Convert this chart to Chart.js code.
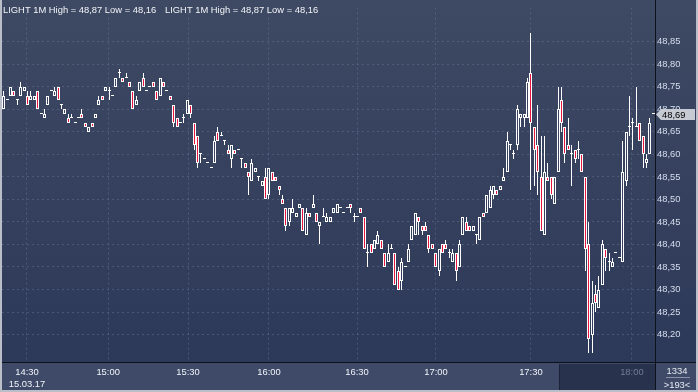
<!DOCTYPE html>
<html>
<head>
<meta charset="utf-8">
<script src="https://cdn.jsdelivr.net/npm/chart.js@4.4.1/dist/chart.umd.min.js"></script>
<style>
  html, body { margin: 0; padding: 0; background: #2f3b58; }
  #wrap { width: 698px; height: 392px; }
</style>
</head>
<body>
<div id="wrap"><canvas id="lightChart" width="698" height="392"></canvas></div>
<script>
/* LIGHT 1M - 15.03.17, bougies 1 minute */

const opens = [
  48.70, 48.72, 48.73, 48.74, 48.72, 48.73, 48.74, 48.73, 48.72, 48.72,
  48.74, 48.69, 48.68, 48.71, 48.74, 48.73, 48.75, 48.71, 48.69, 48.68,
  48.68, 48.67, 48.68, 48.69, 48.67, 48.65, 48.67, 48.68, 48.71, 48.73,
  48.74, 48.74, 48.73, 48.75, 48.78, 48.77, 48.77, 48.76, 48.74, 48.71,
  48.74, 48.77, 48.74, 48.75, 48.76, 48.74, 48.73, 48.76, 48.74, 48.73,
  48.71, 48.68, 48.67, 48.68, 48.69, 48.71, 48.67, 48.64, 48.60, 48.59,
  48.58, 48.57, 48.58, 48.65, 48.64, 48.63, 48.61, 48.59, 48.61, 48.61,
  48.59, 48.58, 48.56, 48.54, 48.56, 48.55, 48.53, 48.55, 48.51, 48.56,
  48.55, 48.53, 48.50, 48.48, 48.45, 48.47, 48.46, 48.48, 48.48, 48.42,
  48.47, 48.48, 48.47, 48.44, 48.46, 48.45, 48.45, 48.47, 48.47, 48.48,
  48.47, 48.48, 48.49, 48.46, 48.46, 48.48, 48.46, 48.38, 48.40, 48.39,
  48.40, 48.41, 48.38, 48.36, 48.39, 48.38, 48.34, 48.32, 48.35, 48.36,
  48.41, 48.42, 48.46, 48.44, 48.44, 48.42, 48.40, 48.38, 48.34, 48.40,
  48.40, 48.38, 48.36, 48.38, 48.35, 48.42, 48.45, 48.44, 48.43, 48.42,
  48.41, 48.47, 48.47, 48.48, 48.51, 48.52, 48.52, 48.54, 48.56, 48.62,
  48.60, 48.62, 48.68, 48.68, 48.68, 48.78, 48.66, 48.62, 48.55, 48.42,
  48.55, 48.55, 48.49, 48.56, 48.72, 48.66, 48.62, 48.60, 48.61, 48.61,
  48.60, 48.55, 48.40, 48.20, 48.29, 48.26, 48.31, 48.39, 48.36, 48.35,
  48.38, 48.37, 48.36, 48.54, 48.66, 48.67, 48.66, 48.67, 48.64, 48.58,
  48.60, 48.69
];
const highs = [
  48.74, 48.72, 48.75, 48.74, 48.72, 48.76, 48.75, 48.74, 48.74, 48.73,
  48.74, 48.69, 48.70, 48.73, 48.74, 48.75, 48.75, 48.71, 48.70, 48.69,
  48.69, 48.67, 48.68, 48.70, 48.67, 48.66, 48.67, 48.69, 48.73, 48.73,
  48.75, 48.75, 48.73, 48.77, 48.79, 48.77, 48.78, 48.76, 48.74, 48.73,
  48.76, 48.78, 48.74, 48.75, 48.76, 48.74, 48.77, 48.76, 48.74, 48.73,
  48.71, 48.68, 48.67, 48.69, 48.72, 48.71, 48.67, 48.64, 48.60, 48.59,
  48.58, 48.57, 48.64, 48.66, 48.65, 48.63, 48.62, 48.62, 48.61, 48.61,
  48.59, 48.58, 48.56, 48.59, 48.57, 48.55, 48.54, 48.57, 48.57, 48.56,
  48.55, 48.53, 48.51, 48.48, 48.48, 48.50, 48.47, 48.49, 48.48, 48.48,
  48.47, 48.51, 48.47, 48.45, 48.48, 48.47, 48.46, 48.48, 48.49, 48.48,
  48.47, 48.48, 48.49, 48.47, 48.46, 48.48, 48.46, 48.40, 48.40, 48.41,
  48.43, 48.41, 48.38, 48.40, 48.40, 48.38, 48.35, 48.37, 48.35, 48.40,
  48.44, 48.47, 48.46, 48.44, 48.45, 48.42, 48.40, 48.38, 48.39, 48.40,
  48.41, 48.39, 48.39, 48.38, 48.41, 48.46, 48.46, 48.44, 48.44, 48.42,
  48.46, 48.47, 48.51, 48.53, 48.53, 48.52, 48.53, 48.57, 48.65, 48.62,
  48.61, 48.71, 48.69, 48.69, 48.77, 48.87, 48.66, 48.71, 48.64, 48.64,
  48.58, 48.55, 48.55, 48.75, 48.75, 48.66, 48.68, 48.62, 48.61, 48.63,
  48.60, 48.55, 48.45, 48.32, 48.31, 48.33, 48.41, 48.39, 48.38, 48.37,
  48.38, 48.37, 48.63, 48.65, 48.73, 48.68, 48.75, 48.67, 48.64, 48.60,
  48.68, 48.69
];
const lows = [
  48.70, 48.72, 48.73, 48.73, 48.71, 48.73, 48.74, 48.71, 48.72, 48.72,
  48.70, 48.69, 48.68, 48.71, 48.74, 48.73, 48.72, 48.70, 48.69, 48.67,
  48.68, 48.67, 48.68, 48.68, 48.66, 48.65, 48.66, 48.68, 48.71, 48.72,
  48.74, 48.72, 48.73, 48.75, 48.77, 48.76, 48.77, 48.75, 48.70, 48.71,
  48.74, 48.75, 48.74, 48.75, 48.75, 48.72, 48.73, 48.75, 48.74, 48.72,
  48.66, 48.66, 48.67, 48.67, 48.69, 48.68, 48.61, 48.57, 48.58, 48.59,
  48.58, 48.57, 48.58, 48.63, 48.64, 48.62, 48.60, 48.57, 48.60, 48.61,
  48.57, 48.57, 48.51, 48.54, 48.56, 48.54, 48.53, 48.50, 48.50, 48.54,
  48.54, 48.51, 48.49, 48.43, 48.44, 48.47, 48.46, 48.48, 48.43, 48.42,
  48.46, 48.48, 48.45, 48.40, 48.46, 48.45, 48.45, 48.47, 48.47, 48.48,
  48.47, 48.48, 48.47, 48.45, 48.46, 48.47, 48.39, 48.35, 48.38, 48.39,
  48.40, 48.39, 48.35, 48.36, 48.39, 48.31, 48.30, 48.30, 48.35, 48.36,
  48.41, 48.42, 48.42, 48.42, 48.43, 48.38, 48.39, 48.35, 48.33, 48.38,
  48.39, 48.37, 48.36, 48.32, 48.35, 48.42, 48.43, 48.43, 48.43, 48.40,
  48.41, 48.46, 48.47, 48.48, 48.50, 48.51, 48.52, 48.54, 48.56, 48.61,
  48.59, 48.61, 48.66, 48.66, 48.68, 48.52, 48.53, 48.51, 48.43, 48.42,
  48.54, 48.50, 48.49, 48.56, 48.65, 48.58, 48.61, 48.53, 48.58, 48.59,
  48.56, 48.34, 48.16, 48.16, 48.25, 48.26, 48.31, 48.34, 48.34, 48.35,
  48.38, 48.37, 48.36, 48.53, 48.64, 48.61, 48.66, 48.63, 48.57, 48.57,
  48.60, 48.69
];
const closes = [
  48.73, 48.72, 48.75, 48.73, 48.72, 48.75, 48.75, 48.71, 48.73, 48.73,
  48.70, 48.69, 48.69, 48.73, 48.74, 48.74, 48.72, 48.71, 48.70, 48.67,
  48.68, 48.67, 48.68, 48.68, 48.66, 48.66, 48.66, 48.69, 48.72, 48.72,
  48.75, 48.74, 48.73, 48.77, 48.78, 48.76, 48.77, 48.75, 48.70, 48.72,
  48.76, 48.75, 48.74, 48.75, 48.75, 48.72, 48.77, 48.75, 48.74, 48.72,
  48.67, 48.66, 48.67, 48.68, 48.72, 48.69, 48.62, 48.58, 48.60, 48.59,
  48.58, 48.57, 48.63, 48.63, 48.64, 48.63, 48.60, 48.62, 48.60, 48.61,
  48.59, 48.57, 48.55, 48.58, 48.57, 48.55, 48.54, 48.50, 48.57, 48.54,
  48.54, 48.52, 48.49, 48.44, 48.48, 48.48, 48.47, 48.49, 48.43, 48.47,
  48.46, 48.49, 48.45, 48.45, 48.46, 48.46, 48.46, 48.48, 48.49, 48.48,
  48.47, 48.48, 48.48, 48.46, 48.46, 48.47, 48.39, 48.38, 48.38, 48.41,
  48.42, 48.39, 48.35, 48.38, 48.39, 48.31, 48.30, 48.36, 48.35, 48.39,
  48.44, 48.47, 48.45, 48.43, 48.43, 48.39, 48.39, 48.35, 48.39, 48.38,
  48.39, 48.38, 48.38, 48.34, 48.40, 48.46, 48.43, 48.43, 48.44, 48.42,
  48.46, 48.46, 48.51, 48.52, 48.53, 48.51, 48.53, 48.55, 48.63, 48.62,
  48.60, 48.70, 48.69, 48.69, 48.76, 48.67, 48.61, 48.56, 48.43, 48.56,
  48.54, 48.51, 48.55, 48.70, 48.67, 48.60, 48.61, 48.60, 48.59, 48.61,
  48.56, 48.39, 48.19, 48.27, 48.27, 48.30, 48.40, 48.37, 48.36, 48.36,
  48.38, 48.37, 48.56, 48.65, 48.66, 48.67, 48.66, 48.63, 48.60, 48.59,
  48.67, 48.69
];

// axe des prix (droite) et axe du temps
const yTicks = [48.20, 48.25, 48.30, 48.35, 48.40, 48.45, 48.50, 48.55,
                48.60, 48.65, 48.70, 48.75, 48.80, 48.85];
const timeLabels = [['14:30', '15.03.17'], '15:00', '15:30', '16:00',
                    '16:30', '17:00', '17:30', '18:00'];
const timeTickPos = [6.85, 30.7, 54.2, 78.0, 103.9, 127.1, 155.0, 184.7];

const symbolTitle = 'LIGHT 1M';
const footTop = '1334';
const footBottom = '>193<';

const RED = '#e8163f';
const GRID = 'rgba(112,126,158,0.42)';

// police : Narrow si dispo, sinon Liberation Sans plus petit
function pickFont() {
  const c = document.createElement('canvas').getContext('2d');
  c.font = '11px monospace';
  const mono = c.measureText('LIGHT 1M High').width;
  c.font = '11px "Liberation Sans Narrow", monospace';
  const narrow = c.measureText('LIGHT 1M High').width;
  if (Math.abs(mono - narrow) > 0.5) return { family: '"Liberation Sans Narrow"', size: 11 };
  return { family: '"Liberation Sans"', size: 9.4 };
}
const FONT = pickFont();
const fontStr = (size) => `${size}px ${FONT.family}`;

const fmt = (v) => v.toFixed(2).replace('.', ',');

const idx = opens.map((_, i) => i);
const lowerWicks = idx.map(i => ({ x: i, y: [lows[i], Math.min(opens[i], closes[i])] }));
const upperWicks = idx.map(i => ({ x: i, y: [Math.max(opens[i], closes[i]), highs[i]] }));
const bodies = idx.map(i => ({ x: i, y: [opens[i], closes[i]] }));

/* ---------- bougies calées sur les pixels (rendu net) ---------- */
const snapPlugin = {
  id: 'snapCandles',
  beforeDatasetsDraw(chart) {
    chart.data.datasets.forEach((ds, d) => {
      chart.getDatasetMeta(d).data.forEach(el => {
        el.x = Math.floor(el.x) + 0.5;
        const top = Math.round(Math.min(el.y, el.base));
        let bottom = Math.round(Math.max(el.y, el.base));
        if (d === 2 && bottom <= top) bottom = top + 1;
        el.y = top;
        el.base = bottom;
        el.height = bottom - top;
      });
    });
  }
};

/* ---------- fonds, bandeau du bas ---------- */
const backgroundPlugin = {
  id: 'lightBackground',
  beforeDraw(chart) {
    const { ctx, width, height } = chart;
    ctx.save();
    const g = ctx.createLinearGradient(0, 0, 0, 362);
    g.addColorStop(0, '#3e4963');
    g.addColorStop(1, '#2d3959');
    ctx.fillStyle = g;
    ctx.fillRect(0, 0, width, 362);

    // bandeau de l'axe du temps
    ctx.fillStyle = '#3e4a67';
    ctx.fillRect(0, 362, width, height - 362);

    // zone sombre (futur)
    ctx.fillStyle = '#28324d';
    ctx.fillRect(559, 364, 96, 26);
    ctx.strokeStyle = '#1c2336';
    ctx.beginPath();
    ctx.moveTo(559.5, 364);
    ctx.lineTo(559.5, 390);
    ctx.stroke();
    ctx.restore();
  },

  afterDraw(chart) {
    const { ctx, width, height, scales } = chart;
    ctx.save();

    // séparateurs noirs
    ctx.strokeStyle = '#0d111b';
    ctx.lineWidth = 1;
    ctx.beginPath();
    ctx.moveTo(655.5, 0);
    ctx.lineTo(655.5, height);
    ctx.moveTo(0, 362.5);
    ctx.lineTo(width, 362.5);
    ctx.stroke();

    // en-tête
    const hi = Math.max(...highs);
    const lo = Math.min(...lows);
    const head = `${symbolTitle} High = ${fmt(hi)} Low = ${fmt(lo)}`;
    ctx.font = fontStr(FONT.size);
    ctx.fillStyle = '#f2f4f8';
    ctx.textAlign = 'left';
    ctx.textBaseline = 'alphabetic';
    ctx.fillText(head, 3, 12.5);
    ctx.fillText(head, 165, 12.5);

    // étiquette du dernier prix
    const last = closes[closes.length - 1];
    const yp = Math.round(scales.y.getPixelForValue(last)) + 0.5;
    ctx.fillStyle = '#c6cad2';
    ctx.beginPath();
    ctx.moveTo(656, yp);
    ctx.lineTo(661, yp - 5.5);
    ctx.lineTo(695, yp - 5.5);
    ctx.lineTo(695, yp + 5.5);
    ctx.lineTo(661, yp + 5.5);
    ctx.closePath();
    ctx.fill();
    ctx.fillStyle = '#000';
    ctx.textBaseline = 'middle';
    ctx.fillText(fmt(last), 662, yp + 0.5);

    // case bas droite
    ctx.fillStyle = '#e6eaf2';
    ctx.textAlign = 'center';
    ctx.fillText(footTop, 677, 371);
    ctx.fillText(footBottom, 677, 385);
    ctx.strokeStyle = '#8a93a8';
    ctx.beginPath();
    ctx.moveTo(666, 377.5);
    ctx.lineTo(690, 377.5);
    ctx.stroke();

    // cadre gris
    ctx.fillStyle = '#b9bec8';
    ctx.fillRect(0, 0, 2, height);
    ctx.fillRect(width - 2, 0, 2, height);
    ctx.fillRect(0, height - 2, width, 2);
    ctx.restore();
  }
};

new Chart(document.getElementById('lightChart'), {
  type: 'bar',
  data: {
    datasets: [
      {
        data: lowerWicks,
        backgroundColor: '#ffffff',
        barThickness: 1,
        borderWidth: 0
      },
      {
        data: upperWicks,
        backgroundColor: '#ffffff',
        barThickness: 1,
        borderWidth: 0
      },
      {
        data: bodies,
        backgroundColor: (c) => closes[c.dataIndex] < opens[c.dataIndex] ? RED : 'rgba(0,0,0,0)',
        borderColor: '#ffffff',
        borderWidth: 1,
        borderSkipped: false,
        barThickness: 3,
        minBarLength: 1
      }
    ]
  },
  options: {
    responsive: false,
    animation: false,
    devicePixelRatio: 1,
    layout: { padding: { left: 2, top: 0, right: 0, bottom: 0 } },
    datasets: { bar: { grouped: false, inflateAmount: 0 } },
    plugins: {
      legend: { display: false },
      tooltip: { enabled: false },
      title: { display: false }
    },
    scales: {
      x: {
        type: 'linear',
        min: -0.5,
        max: opens.length - 0.5,
        offset: false,
        afterFit: (s) => { s.height = 30; },
        afterBuildTicks: (s) => { s.ticks = timeTickPos.map(v => ({ value: v })); },
        grid: { color: GRID, offset: false, drawTicks: false },
        border: { display: false, dash: [2, 3] },
        ticks: {
          autoSkip: false,
          maxRotation: 0,
          padding: 5,
          font: { family: FONT.family.replace(/"/g, ''), size: FONT.size, lineHeight: 1.25 },
          color: (c) => c.index === timeLabels.length - 1 ? '#6f7b96' : '#f2f4f8',
          callback: (v, i) => timeLabels[i]
        }
      },
      y: {
        position: 'right',
        min: 48.139,
        max: 48.926,
        afterFit: (s) => { s.width = 43; },
        afterBuildTicks: (s) => { s.ticks = yTicks.map(v => ({ value: v })); },
        grid: { color: GRID, drawTicks: false },
        border: { display: false, dash: [2, 3] },
        ticks: {
          padding: 2,
          font: { family: FONT.family.replace(/"/g, ''), size: FONT.size },
          color: '#d6deee',
          callback: (v) => fmt(v)
        }
      }
    }
  },
  plugins: [backgroundPlugin, snapPlugin]
});
</script>
</body>
</html>
